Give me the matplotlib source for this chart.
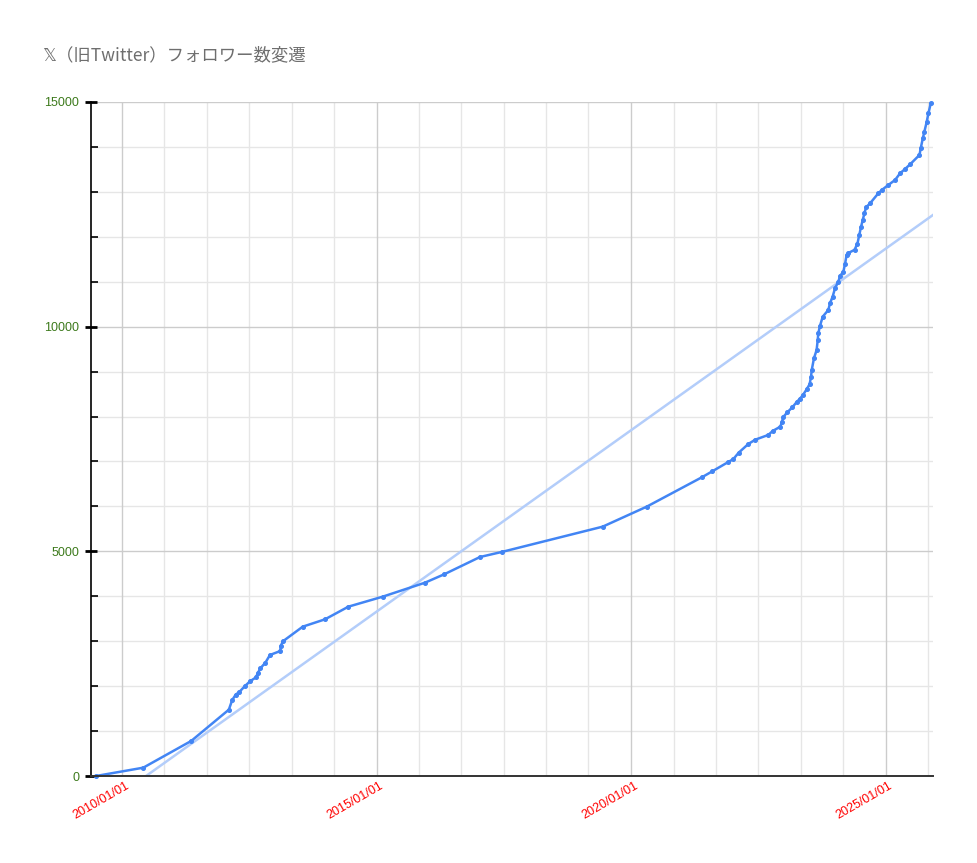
"""
X (formerly Twitter) follower count over time, drawn in the style of a
Google Sheets line chart with a linear trendline.
"""

import matplotlib

matplotlib.use("Agg")

import matplotlib.dates as mdates
import matplotlib.pyplot as plt
import numpy as np
import pandas as pd
from matplotlib.transforms import ScaledTranslation

plt.rcParams.update(
    {
        "font.family": ["Liberation Sans", "DejaVu Sans"],
    }
)

TITLE = "𝕏（旧Twitter）フォロワー数変遷"

# follower counts
dates = [
    "2009-06-28", "2010-06-02", "2011-05-12", "2012-02-06", "2012-03-01",
    "2012-03-26", "2012-04-21", "2012-06-01", "2012-07-07", "2012-08-19",
    "2012-08-31", "2012-09-19", "2012-10-25", "2012-11-27", "2013-02-09",
    "2013-02-12", "2013-02-28", "2013-07-20", "2013-12-27", "2014-06-13",
    "2015-02-14", "2015-12-14", "2016-04-30", "2017-01-12", "2017-06-17",
    "2019-06-11", "2020-04-22", "2021-05-27", "2021-08-06", "2021-11-29",
    "2022-01-04", "2022-02-11", "2022-04-21", "2022-06-10", "2022-09-11",
    "2022-10-13", "2022-12-07", "2022-12-17", "2022-12-28", "2023-01-26",
    "2023-03-03", "2023-04-05", "2023-04-27", "2023-05-18", "2023-06-14",
    "2023-07-05", "2023-07-15", "2023-07-20", "2023-08-05", "2023-08-24",
    "2023-09-01", "2023-09-05", "2023-09-17", "2023-10-07", "2023-11-16",
    "2023-11-28", "2023-12-17", "2024-01-03", "2024-01-27", "2024-02-08",
    "2024-03-03", "2024-03-15", "2024-03-26", "2024-04-08", "2024-05-22",
    "2024-06-12", "2024-06-25", "2024-07-08", "2024-07-20", "2024-08-01",
    "2024-08-13", "2024-09-11", "2024-11-09", "2024-12-04", "2025-01-20",
    "2025-03-09", "2025-04-14", "2025-05-20", "2025-06-25", "2025-08-31",
    "2025-09-09", "2025-09-24", "2025-10-05", "2025-10-22", "2025-11-03",
    "2025-11-20",
]
followers = [
    0, 185, 780, 1476, 1690,
    1810, 1870, 2003, 2108, 2196,
    2285, 2396, 2522, 2693, 2782,
    2893, 2998, 3323, 3487, 3769,
    3991, 4302, 4489, 4874, 4986,
    5549, 5994, 6655, 6782, 6989,
    7055, 7196, 7389, 7485, 7590,
    7679, 7775, 7873, 7990, 8095,
    8206, 8330, 8398, 8480, 8607,
    8720, 8887, 9036, 9297, 9481,
    9704, 9852, 10016, 10223, 10372,
    10521, 10668, 10854, 11002, 11128,
    11224, 11400, 11590, 11640, 11710,
    11850, 12041, 12226, 12375, 12524,
    12658, 12747, 12969, 13043, 13154,
    13265, 13414, 13510, 13614, 13821,
    13970, 14193, 14337, 14560, 14748,
    14969,
]

# linear trendline end points as drawn
trend_dates = ["2010-06-22", "2025-12-06"]
trend_values = [0, 12486]

x_range = ["2009-05-23", "2025-12-06"]
x_major_years = [2010, 2015, 2020, 2025]
y_major = [0, 5000, 10000, 15000]
y_max = 15000

LINE_BLUE = "#4285f4"
TREND_BLUE = "#b3cdfa"
GRID_MAJOR = "#cccccc"
GRID_MINOR = "#e6e6e6"


def main():
    x = pd.to_datetime(dates)
    tx = pd.to_datetime(trend_dates)
    xlo, xhi = pd.to_datetime(x_range)

    fig = plt.figure(figsize=(9.77, 8.63), dpi=100)
    ax = fig.add_axes([91 / 977, 1 - 776 / 863, (933 - 91) / 977, (776 - 102) / 863])

    # gridlines: major every 5 years, minor every 10 months
    major_x = [pd.Timestamp(f"{yr}-01-01") for yr in x_major_years]
    minor_x = []
    for k in range(-1, 20):
        t = pd.Timestamp("2010-01-01") + pd.DateOffset(months=10 * k)
        if xlo < t < xhi and t not in major_x:
            minor_x.append(t)
    for t in minor_x:
        ax.axvline(t, color=GRID_MINOR, lw=1, zorder=0)
    for t in major_x:
        ax.axvline(t, color=GRID_MAJOR, lw=1, zorder=0.5)
    for v in range(1000, y_max + 1, 1000):
        ax.axhline(v, color=GRID_MAJOR if v % 5000 == 0 else GRID_MINOR, lw=1,
                   zorder=0.5 if v % 5000 == 0 else 0)

    ax.plot(tx, trend_values, color=TREND_BLUE, lw=1.8, zorder=2)
    ax.plot(x, followers, color=LINE_BLUE, lw=1.8, marker="o", ms=2.6,
            mec=LINE_BLUE, mfc=LINE_BLUE, zorder=3, clip_on=False)

    ax.set_xlim(xlo, xhi)
    ax.set_ylim(0, y_max)

    for side in ("top", "right"):
        ax.spines[side].set_visible(False)
    ax.spines["left"].set_color("black")
    ax.spines["left"].set_linewidth(1.2)
    ax.spines["bottom"].set_color("#333333")
    ax.spines["bottom"].set_linewidth(1.4)
    ax.spines["bottom"].set_zorder(4)

    # y ticks: long marks at labels, short inside marks every 1000
    ax.set_yticks(y_major)
    ax.set_yticklabels([str(v) for v in y_major], color="#3d7a1c", fontsize=9)
    ax.set_yticks(range(1000, y_max, 1000), minor=True)
    ax.tick_params(axis="y", which="major", direction="inout", length=9,
                   width=2, color="black", pad=4)
    ax.tick_params(axis="y", which="minor", direction="in", length=5,
                   width=1.2, color="black")

    # x labels
    ax.set_xticks(major_x)
    ax.xaxis.set_major_formatter(mdates.DateFormatter("%Y/%m/%d"))
    ax.tick_params(axis="x", which="both", length=0, pad=3)
    offset = ScaledTranslation(3 / 100, 0, fig.dpi_scale_trans)
    for lab in ax.get_xticklabels():
        lab.set_rotation(30)
        lab.set_rotation_mode("anchor")
        lab.set_ha("right")
        lab.set_va("top")
        lab.set_color("red")
        lab.set_fontsize(9)
        lab.set_transform(lab.get_transform() + offset)

    fig.text(42 / 977, 1 - 55 / 863, TITLE, fontsize=12.5, color="#6e6e6e",
             ha="left", va="center",
             family=["Noto Sans CJK JP", "DejaVu Sans"])

    fig.savefig("out.png", dpi=100)
    plt.close(fig)


if __name__ == "__main__":
    main()
